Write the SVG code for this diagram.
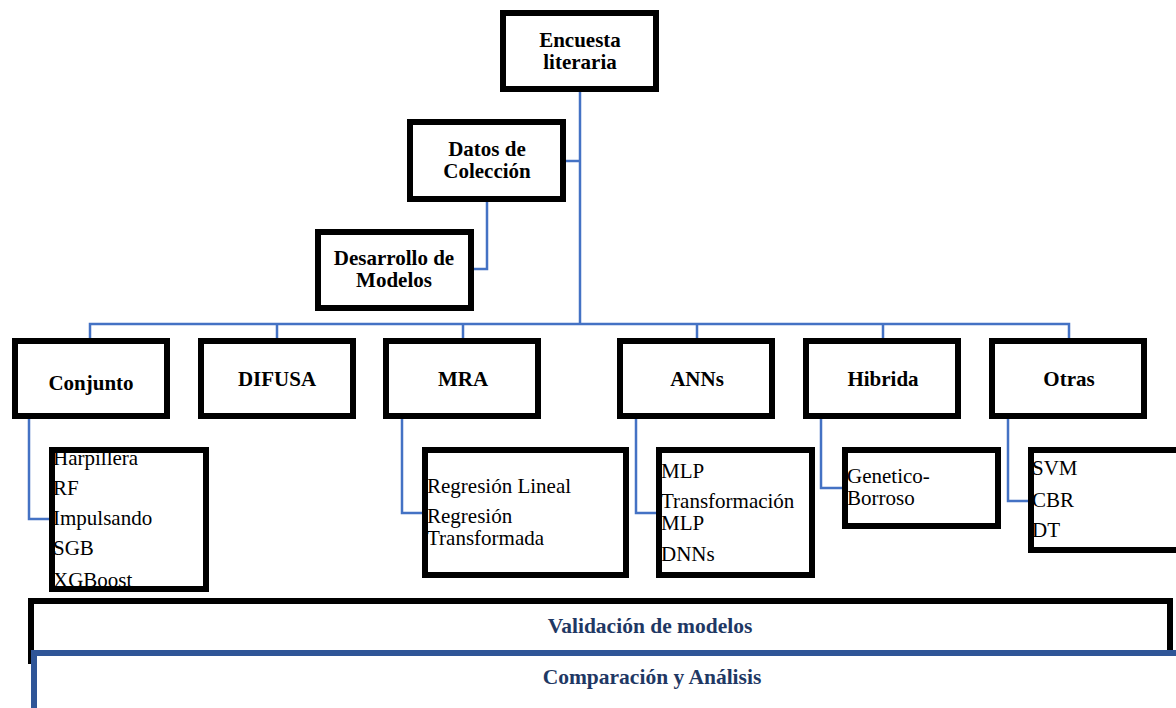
<svg xmlns="http://www.w3.org/2000/svg" width="1176" height="708" viewBox="0 0 1176 708">
<style>
.box{fill:none;stroke:#000;stroke-width:6}
.h{font-family:"Liberation Serif","Times New Roman",serif;font-size:21px;font-weight:bold;fill:#000;text-anchor:middle}
.t{font-family:"Liberation Serif","Times New Roman",serif;font-size:21px;fill:#000}
.n{font-family:"Liberation Serif","Times New Roman",serif;font-size:21.5px;font-weight:bold;fill:#1F3864;text-anchor:middle}
.c{fill:none;stroke:#4472C4;stroke-width:2.5}
</style>
<rect width="1176" height="708" fill="#fff"/>
<g id="connectors" class="c">
<path d="M580 92V324"/>
<path d="M566 161H580"/>
<path d="M487 202V269H474"/>
<path d="M90 338V324H1069V338"/>
<path d="M277 324V338M463 324V338M697 324V338M883 324V338"/>
<path d="M29 419V519H49"/>
<path d="M402 419V513H422"/>
<path d="M636 419V513H656"/>
<path d="M821 419V488H842"/>
<path d="M1008 419V501H1028"/>
</g>
<g id="encuesta"><rect class="box" x="503" y="13" width="153" height="76"/><text class="h" x="580" y="47">Encuesta</text><text class="h" x="580" y="69">literaria</text></g>
<g id="datos"><rect class="box" x="410" y="122" width="153" height="77"/><text class="h" x="487" y="156">Datos de</text><text class="h" x="487" y="178">Colección</text></g>
<g id="desarrollo"><rect class="box" x="318" y="232" width="153" height="76"/><text class="h" x="394" y="265">Desarrollo de</text><text class="h" x="394" y="287">Modelos</text></g>
<g id="conjunto"><rect class="box" x="15" y="341" width="152" height="75"/><text class="h" x="91" y="390">Conjunto</text></g>
<g id="difusa"><rect class="box" x="201" y="341" width="152" height="75"/><text class="h" x="277" y="386">DIFUSA</text></g>
<g id="mra"><rect class="box" x="386" y="341" width="152" height="75"/><text class="h" x="463" y="386">MRA</text></g>
<g id="anns"><rect class="box" x="620" y="341" width="152" height="75"/><text class="h" x="697" y="386">ANNs</text></g>
<g id="hibrida"><rect class="box" x="806" y="341" width="152" height="75"/><text class="h" x="883" y="386">Hibrida</text></g>
<g id="otras"><rect class="box" x="992" y="341" width="152" height="75"/><text class="h" x="1069" y="386">Otras</text></g>
<g id="conjunto-list"><text class="t" x="53" y="465">Harpillera</text><text class="t" x="53" y="495">RF</text><text class="t" x="53" y="525">Impulsando</text><text class="t" x="53" y="555">SGB</text><text class="t" x="53" y="587">XGBoost</text><rect class="box" x="52" y="450" width="154" height="139"/></g>
<g id="mra-list"><text class="t" x="427" y="493">Regresión Lineal</text><text class="t" x="427" y="523">Regresión</text><text class="t" x="427" y="545">Transformada</text><rect class="box" x="425" y="450" width="201" height="125"/></g>
<g id="anns-list"><text class="t" x="661" y="478">MLP</text><text class="t" x="661" y="508">Transformación</text><text class="t" x="661" y="530">MLP</text><text class="t" x="661" y="561">DNNs</text><rect class="box" x="659" y="450" width="153" height="125"/></g>
<g id="hibrida-list"><text class="t" x="847" y="483">Genetico-</text><text class="t" x="847" y="505">Borroso</text><rect class="box" x="845" y="450" width="153" height="76"/></g>
<g id="otras-list"><text class="t" x="1032" y="475">SVM</text><text class="t" x="1032" y="507">CBR</text><text class="t" x="1032" y="537">DT</text><rect class="box" x="1031" y="450" width="160" height="100"/></g>
<g id="validacion"><rect class="box" x="31" y="601" width="1139" height="60"/><text class="n" x="650" y="633">Validación de modelos</text></g>
<g id="comparacion"><rect x="34" y="653" width="1145" height="100" fill="#fff" stroke="#2F5597" stroke-width="6"/><text class="n" x="652" y="684">Comparación y Análisis</text></g>
</svg>
